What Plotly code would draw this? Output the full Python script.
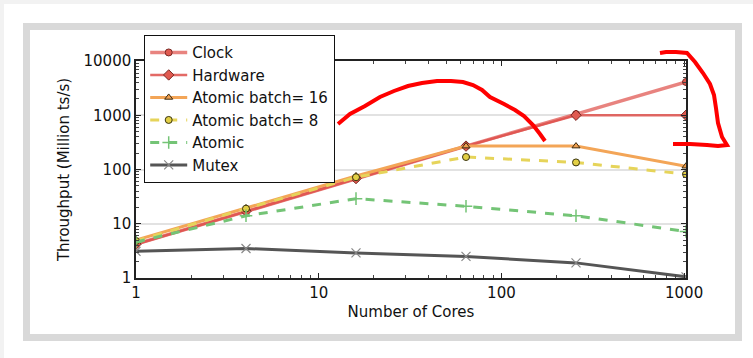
import math
import plotly.graph_objects as go

cores = [1, 4, 16, 64, 256, 1024]
clock = [4.2, 17, 68, 270, 1050, 4100]
hardware = [4.2, 17, 68, 270, 1000, 1000]
atomic_b16 = [5.0, 19.5, 76, 270, 270, 115]
atomic_b8 = [4.8, 19, 72, 170, 135, 82]
atomic = [4.6, 14, 29, 21, 14, 7.2]
mutex = [3.1, 3.5, 2.9, 2.5, 1.9, 1.05]

x_tick_vals = [1, 10, 100, 1000]
x_tick_text = ["1", "10", "100", "1000"]
y_tick_vals = [1, 10, 100, 1000, 10000]
y_tick_text = ["1", "10", "100", "1000", "10000"]

W, H = 753, 358
L, R, T, B = 136, 686, 61, 278
FONT = "DejaVu Sans, Liberation Sans, Arial, sans-serif"

fig = go.Figure()

def add(name, y, color, width, dash, symbol, mfill, mline, msize=7, mlw=1):
    fig.add_trace(go.Scatter(
        x=cores, y=y, name=name, mode="lines+markers",
        line=dict(color=color, width=width, dash=dash),
        marker=dict(symbol=symbol, size=msize, color=mfill,
                    line=dict(color=mline, width=mlw)),
    ))

add("Clock", clock, "rgba(226,100,95,0.8)", 3.5, "solid", "circle", "#e05a50", "#7a2a25")
add("Hardware", hardware, "rgba(222,80,75,0.85)", 2.5, "solid", "diamond", "#e05a50", "#7a2a25", 8)
add("Atomic batch= 16", atomic_b16, "#f3a557", 3, "solid", "triangle-up", "#f0a050", "#3a2a10")
add("Atomic batch= 8", atomic_b8, "#e6d45a", 3, "dash", "circle", "#e2cf45", "#3a3510")
add("Atomic", atomic, "#74c476", 3, "dash", "cross-thin", "#74c476", "#74c476", 9, 1.5)
add("Mutex", mutex, "#555555", 3, "solid", "x-thin", "#888888", "#888888", 9, 1.2)

def px2paper(px, py):
    return (px - L) / (R - L), (B - py) / (B - T)

def path(points):
    s = ""
    for i, (px, py) in enumerate(points):
        xp, yp = px2paper(px, py)
        s += ("M" if i == 0 else " L") + f" {xp:.4f} {yp:.4f}"
    return s

squiggle1 = [(338, 124), (350, 114), (365, 106), (380, 97), (394, 91), (408, 86), (422, 83),
             (437, 81), (451, 81), (463, 82), (473, 85), (482, 90), (490, 97), (504, 104),
             (515, 110), (524, 116), (533, 125), (540, 134), (545, 141)]
squiggle2 = [(660, 53), (666, 52), (676, 52), (687, 53), (695, 62), (703, 73), (710, 84),
             (714, 95), (716, 108), (718, 123), (722, 137), (727, 145), (718, 146),
             (707, 145), (690, 144), (673, 144)]

shapes = [
    dict(type="rect", xref="paper", yref="paper",
         x0=px2paper(0, 0)[0], x1=px2paper(W, 0)[0], y0=px2paper(0, 0)[1], y1=px2paper(0, 4)[1],
         fillcolor="#f2f2f2", line=dict(width=0), layer="below"),
    dict(type="rect", xref="paper", yref="paper",
         x0=px2paper(0, 0)[0], x1=px2paper(4, 0)[0], y0=px2paper(0, 0)[1], y1=px2paper(0, H)[1],
         fillcolor="#f2f2f2", line=dict(width=0), layer="below"),
    dict(type="rect", xref="paper", yref="paper",
         x0=px2paper(26.5, 0)[0], x1=px2paper(738.5, 0)[0],
         y0=px2paper(0, 337.5)[1], y1=px2paper(0, 26.5)[1],
         line=dict(color="#d9d9d9", width=7), fillcolor="rgba(0,0,0,0)", layer="below"),
    dict(type="path", xref="paper", yref="paper", path=path(squiggle1),
         line=dict(color="#ff0000", width=4)),
    dict(type="path", xref="paper", yref="paper", path=path(squiggle2),
         line=dict(color="#ff0000", width=4)),
]

axis_common = dict(
    type="log", showline=True, linecolor="#222222", linewidth=1.5, mirror="allticks",
    ticks="inside", ticklen=5, tickcolor="#222222", tickfont=dict(size=15, color="#111111"),
    zeroline=False,
    minor=dict(ticks="inside", ticklen=3, tickcolor="#444444", showgrid=False, dtick="D1"),
)

fig.update_layout(
    width=W, height=H,
    margin=dict(l=L, r=W - R, t=T, b=H - B),
    paper_bgcolor="white", plot_bgcolor="white",
    font=dict(family=FONT, color="#111111"),
    xaxis=dict(axis_common, range=[0, math.log10(1024)], tickmode="array",
               tickvals=x_tick_vals, ticktext=x_tick_text, showgrid=False,
               title=dict(text="Number of Cores", font=dict(size=15), standoff=6)),
    yaxis=dict(axis_common, range=[0, 4], tickmode="array",
               tickvals=y_tick_vals, ticktext=y_tick_text, showgrid=True,
               gridcolor="#e2e2e2", gridwidth=1.5,
               title=dict(text="Throughput (Million ts/s)", font=dict(size=15), standoff=10)),
    legend=dict(x=(144 - L) / (R - L), y=(B - 35) / (B - T), xanchor="left", yanchor="top",
                bgcolor="white", bordercolor="#111111", borderwidth=1.2,
                font=dict(size=15, color="#111111"), tracegroupgap=0,
                itemwidth=37),
    shapes=shapes,
    showlegend=True,
)

fig.write_html("out.html", config={"displayModeBar": False},
               post_script="document.body.style.margin='0px';")
